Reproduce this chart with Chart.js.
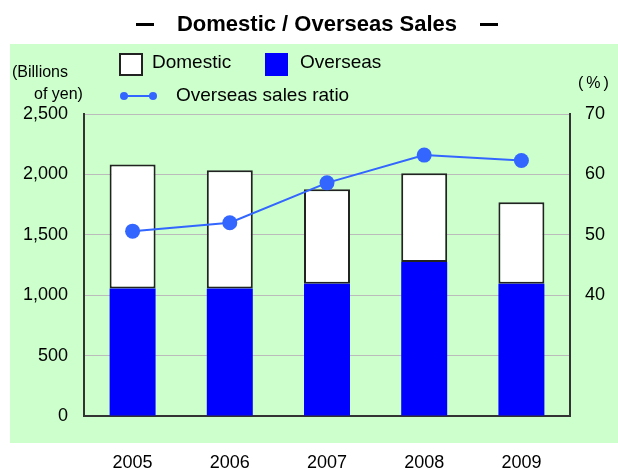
<!DOCTYPE html>
<html>
<head>
<meta charset="utf-8">
<script src="https://cdn.jsdelivr.net/npm/chart.js@4/dist/chart.umd.min.js"></script>
<style>
  body { margin: 0; background: #fff; }
</style>
</head>
<body>
<canvas id="salesChart" width="618" height="469"></canvas>
<script>
// data
const years = ["2005", "2006", "2007", "2008", "2009"];
const overseasSales = [1056, 1056, 1095, 1275, 1095];
const domesticSales = [1026, 979, 783, 735, 675];
const overseasRatio = [50.6, 52.0, 58.6, 63.2, 62.3];
const leftTicks = [0, 500, 1000, 1500, 2000, 2500];
const rightTicks = [40, 50, 60, 70];

const FONT = '"Liberation Sans", Arial, sans-serif';
Chart.defaults.font.family = FONT;
Chart.defaults.color = "#000";

/* ---------------------------------------------------
    background panel + title / legend texts
----------------------------------------------------- */
const panelPlugin = {
  id: "panel",
  beforeDraw(chart) {
    const c = chart.ctx;
    c.save();
    c.fillStyle = "#fff";
    c.fillRect(0, 0, chart.width, chart.height);
    c.fillStyle = "#ccffcc";
    c.fillRect(10, 44, chart.width - 10, 399);
    c.restore();
  },
  afterDraw(chart) {
    const c = chart.ctx;
    c.save();
    c.fillStyle = "#000";
    c.textBaseline = "middle";

    // title
    c.font = "bold 22px " + FONT;
    c.textAlign = "center";
    c.fillText("Domestic / Overseas Sales", 317, 25);
    c.fillRect(136, 23, 18, 3);
    c.fillRect(480, 23, 18, 3);

    // legend
    c.textAlign = "left";
    c.fillStyle = "#fff";
    c.fillRect(120, 54, 22, 21);
    c.strokeStyle = "#222";
    c.lineWidth = 2;
    c.strokeRect(120, 54, 22, 21);
    c.fillStyle = "#0000ff";
    c.fillRect(265, 53, 23, 23);

    c.fillStyle = "#000";
    c.font = "19px " + FONT;
    c.fillText("Domestic", 152, 63);
    c.fillText("Overseas", 300, 63);

    c.strokeStyle = "#3366ff";
    c.lineWidth = 2;
    c.beginPath();
    c.moveTo(122, 96);
    c.lineTo(155, 96);
    c.stroke();
    c.fillStyle = "#3366ff";
    [124, 153].forEach(px => {
      c.beginPath();
      c.arc(px, 96, 4, 0, Math.PI * 2);
      c.fill();
    });
    c.fillStyle = "#000";
    c.fillText("Overseas sales ratio", 176, 96);

    // unit labels
    c.font = "16px " + FONT;
    c.fillText("(Billions", 12, 73);
    c.fillText("of yen)", 34, 95);
    c.letterSpacing = "3px";
    c.fillText("(%)", 578, 84);
    c.restore();
  }
};

/* ---------------------------------------------------
    chart
----------------------------------------------------- */
new Chart(document.getElementById("salesChart"), {
  type: "bar",
  data: {
    labels: years,
    datasets: [
      {
        type: "line",
        label: "Overseas sales ratio",
        data: overseasRatio,
        yAxisID: "y1",
        borderColor: "#3366ff",
        borderWidth: 2,
        pointRadius: 7.5,
        pointBackgroundColor: "#3366ff",
        pointBorderWidth: 0,
        order: 0,
      },
      {
        label: "Overseas",
        data: overseasSales,
        backgroundColor: "#0000ff",
        borderWidth: 0,
        yAxisID: "y",
        order: 1,
      },
      {
        label: "Domestic",
        data: domesticSales,
        backgroundColor: "#ffffff",
        borderColor: "#222",
        borderWidth: 2,
        borderSkipped: false,
        yAxisID: "y",
        order: 1,
      },
    ],
  },
  options: {
    responsive: false,
    animation: false,
    layout: { padding: { top: 114, left: 0, right: 0, bottom: 0 } },
    datasets: {
      bar: { categoryPercentage: 1, barPercentage: 0.473 },
    },
    plugins: {
      legend: { display: false },
      tooltip: { enabled: false },
    },
    scales: {
      x: {
        stacked: true,
        grid: { display: false, drawTicks: false },
        border: { color: "#333", width: 2 },
        ticks: { font: { size: 18 }, padding: 36 },
        afterFit: s => { s.height = 53; },
      },
      y: {
        stacked: true,
        position: "left",
        min: 0,
        max: 2500,
        afterBuildTicks: s => { s.ticks = leftTicks.map(v => ({ value: v })); },
        grid: { color: "#bbb", lineWidth: 1, drawTicks: false },
        border: { color: "#333", width: 2 },
        ticks: {
          font: { size: 18 },
          padding: 16,
          callback: v => v.toLocaleString("en-US"),
        },
        afterFit: s => { s.width = 84; },
      },
      y1: {
        position: "right",
        min: 20,
        max: 70,
        afterBuildTicks: s => { s.ticks = rightTicks.map(v => ({ value: v })); },
        grid: { display: false, drawTicks: false },
        border: { color: "#333", width: 2 },
        ticks: { font: { size: 18 }, padding: 15 },
        afterFit: s => { s.width = 48; },
      },
    },
  },
  plugins: [panelPlugin],
});
</script>
</body>
</html>
